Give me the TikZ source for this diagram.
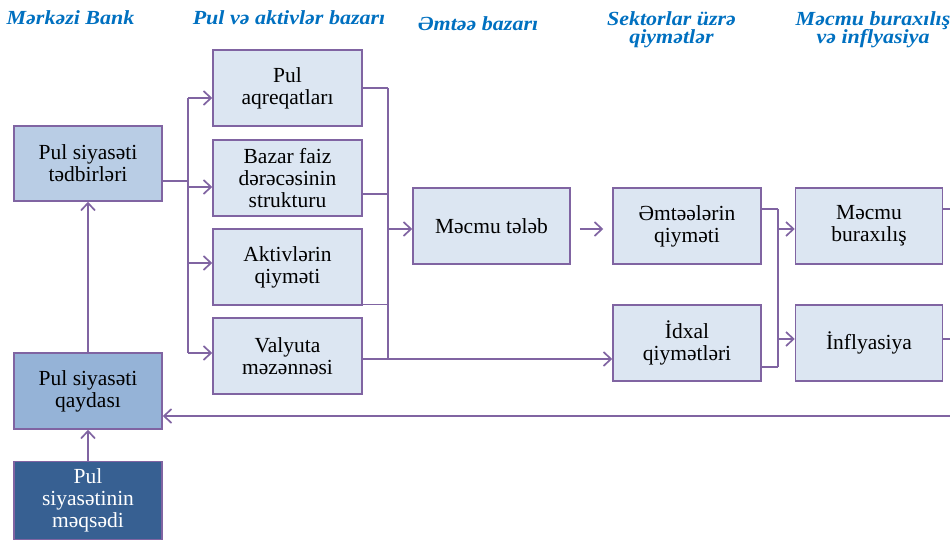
\documentclass[tikz,border=0pt]{standalone}
\usepackage{fontspec}
\setmainfont{Liberation Serif}
\newfontfamily\headfont[FakeStretch=1.1]{Liberation Serif}
\usetikzlibrary{arrows.meta}
\definecolor{lineC}{HTML}{8064A2}
\definecolor{boxL}{HTML}{DCE6F2}
\definecolor{boxM}{HTML}{B9CDE5}
\definecolor{boxD}{HTML}{95B3D7}
\definecolor{boxDD}{HTML}{376092}
\definecolor{headC}{HTML}{0070C0}
\begin{document}
\begin{tikzpicture}[x=1pt,y=-1pt,
  box/.style={draw=lineC, line width=1.5pt, fill=boxL, minimum width=148pt, minimum height=76pt,
    align=center, inner sep=0pt, font=\fontsize{21.5}{22}\selectfont},
  head/.style={text=headC, inner sep=0pt, align=center, font=\headfont\fontsize{20}{18.5}\selectfont\bfseries\itshape},
  conn/.style={draw=lineC, line width=1.7pt},
  arr/.style={conn, -{Straight Barb[length=7.5pt,width=14pt]}}]
\useasboundingbox (0,0) rectangle (950,540);
\clip (0,0) rectangle (950,540);

% headers
\node[head, anchor=base] (h1) at (70.5,25) {Mərkəzi Bank};
\node[head, anchor=base] (h2) at (289,25) {Pul və aktivlər bazarı};
\node[head, anchor=base] (h3) at (478,31) {Əmtəə bazarı};
\node[head, anchor=north] (h4) at (671.5,11) {Sektorlar üzrə\\qiymətlər};
\node[head, anchor=north] (h5) at (873,11) {Məcmu buraxılış\\və inflyasiya};

% left column
\node[box, fill=boxM, minimum height=75pt] (tedbir) at (88,163.5) {Pul siyasəti\\tədbirləri};
\node[box, fill=boxD] (qayda) at (88,391) {Pul siyasəti\\qaydası};
\node[box, fill=boxDD, text=white, minimum height=78pt] (meqsed) at (88,500.5) {Pul\\siyasətinin\\məqsədi};

% second column
\node[box, minimum width=149pt] (aq) at (287.5,88) {Pul\\aqreqatları};
\node[box, minimum width=149pt] (bazar) at (287.5,178) {Bazar faiz\\dərəcəsinin\\strukturu};
\node[box, minimum width=149pt] (aktiv) at (287.5,267) {Aktivlərin\\qiyməti};
\node[box, minimum width=149pt] (valyuta) at (287.5,356) {Valyuta\\məzənnəsi};

% others
\node[box, minimum width=157pt] (mtaleb) at (491.5,226) {Məcmu tələb};
\node[box] (emtee) at (687,226) {Əmtəələrin\\qiyməti};
\node[box] (idxal) at (687,343) {İdxal\\qiymətləri};
\node[box, minimum width=147pt] (mburax) at (869,226) {Məcmu\\buraxılış};
\node[box, minimum width=147pt] (infl) at (869,343) {İnflyasiya};

% left vertical arrows
\draw[arr] (qayda.north) -- (tedbir.south);
\draw[arr] (meqsed.north) -- (qayda.south);

% left bus
\coordinate (jL0) at (188,181);
\coordinate (jL1) at (188,98);
\coordinate (jL2) at (188,187);
\coordinate (jL3) at (188,263);
\coordinate (jL4) at (188,353);
\draw[conn] (tedbir.east |- jL0) -- (jL0);
\draw[conn] (jL1) -- (jL4);
\draw[arr] (jL1) -- (jL1 -| aq.west);
\draw[arr] (jL2) -- (jL2 -| bazar.west);
\draw[arr] (jL3) -- (jL3 -| aktiv.west);
\draw[arr] (jL4) -- (jL4 -| valyuta.west);

% right bus of column 2
\coordinate (jR1) at (388,88);
\coordinate (jR2) at (388,194);
\coordinate (jR3) at (388,304.5);
\coordinate (jR4) at (388,359);
\coordinate (jR0) at (388,229);
\draw[conn] (jR1) -- (jR4);
\draw[conn] (aq.east |- jR1) -- (jR1);
\draw[conn] (bazar.east |- jR2) -- (jR2);
\draw[conn] (aktiv.east |- jR3) -- (jR3);
\draw[arr] (valyuta.east |- jR4) -- (jR4 -| idxal.west);
\draw[arr] (jR0) -- (jR0 -| mtaleb.west);

% demand to prices
\draw[arr] ([xshift=9pt,yshift=-3pt]mtaleb.east) -- ([xshift=-9pt,yshift=-3pt]emtee.west);

% prices bus
\coordinate (jP1) at (778,209);
\coordinate (jP2) at (778,367);
\coordinate (jP3) at (778,229);
\coordinate (jP4) at (778,339);
\draw[conn] (jP1) -- (jP2);
\draw[conn] (emtee.east |- jP1) -- (jP1);
\draw[conn] (idxal.east |- jP2) -- (jP2);
\draw[arr] (jP3) -- (jP3 -| mburax.west);
\draw[arr] (jP4) -- (jP4 -| infl.west);

% outgoing lines and feedback
\coordinate (o1) at (951,209);
\coordinate (o2) at (951,339);
\coordinate (fb) at (951,416);
\draw[conn] (mburax.east |- o1) -- (o1);
\draw[conn] (infl.east |- o2) -- (o2);
\draw[arr] (fb) -- (fb -| qayda.east);
\end{tikzpicture}
\end{document}
